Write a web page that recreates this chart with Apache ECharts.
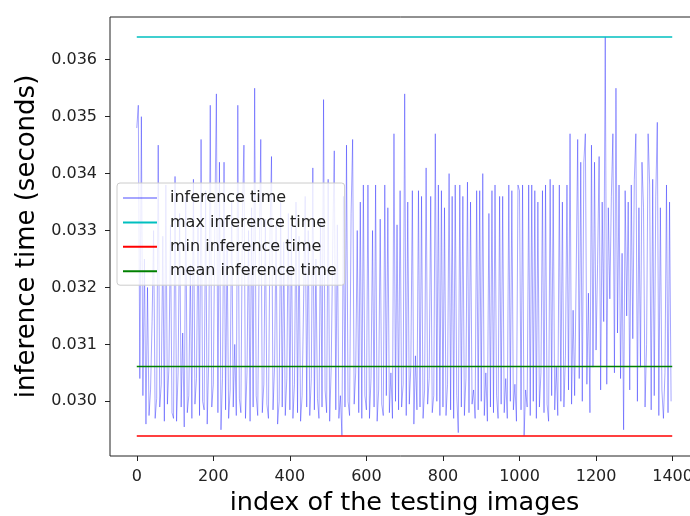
<!DOCTYPE html>
<html>
<head>
<meta charset="utf-8">
<script src="https://cdn.jsdelivr.net/npm/echarts@6/dist/echarts.min.js"></script>
<style>
html,body{margin:0;padding:0;background:#fff;}
#chart{width:690px;height:516px;}
</style>
</head>
<body>
<div id="chart"></div>
<script>
// inference time in milliseconds, sampled every 4th testing image (index = position * step)
const step = 4;
const ms0000 = [34.80,35.20,30.40,35.00,30.10,32.50,29.60,32.00,29.75,30.20,
  31.40,33.00,29.70,30.05,34.50,29.90,30.30,32.90,29.65,33.80,
  29.95,30.60,33.10,29.80,29.70,33.95,29.65,30.50,33.30,29.90,
  31.20,29.55,33.60,29.80,30.10,32.40,29.70,33.90,29.95,30.40,
  33.10,29.75,34.60,30.00,29.85,33.70,29.60,30.70,35.20,29.90];
const ms0200 = [30.30,33.20,35.40,29.80,34.20,29.50,30.40,34.20,29.85,32.80,
  29.70,30.20,33.50,29.90,31.00,29.75,35.20,30.05,29.80,33.30,
  34.50,29.70,30.50,33.00,29.65,33.40,29.90,35.50,30.10,29.75,
  32.60,34.60,29.80,30.30,33.20,29.95,29.70,32.90,34.30,29.85,
  30.60,33.10,29.60,30.00,33.50,29.90,32.80,29.75,30.40,33.30];
const ms0400 = [29.85,33.10,29.70,30.30,33.50,29.80,32.90,29.65,30.10,31.80,
  33.60,29.90,33.00,29.75,30.40,34.10,29.85,32.50,30.05,29.70,
  33.20,29.90,35.30,30.20,29.80,33.90,29.65,30.60,32.80,34.40,
  29.85,33.10,29.70,30.10,29.40,33.60,29.90,34.50,30.00,29.75,
  33.30,34.60,29.95,30.50,33.00,29.80,33.50,29.70,33.80,30.10];
const ms0600 = [29.85,33.80,29.70,30.40,33.00,29.90,33.80,29.65,30.20,33.20,
  29.95,29.75,33.80,30.10,33.40,29.80,30.50,29.70,34.70,30.00,
  33.10,29.85,33.70,29.90,30.30,35.40,29.75,33.50,29.95,30.60,
  33.70,29.60,30.80,29.85,33.70,29.90,33.60,29.70,30.20,34.10,
  29.95,30.40,33.60,29.80,30.10,34.70,30.00,33.80,29.75,33.70];
const ms0800 = [29.90,33.40,29.75,30.30,34.00,29.85,33.60,29.70,33.80,30.10,
  29.45,33.80,29.90,33.60,29.75,30.40,33.85,29.80,33.50,29.95,
  30.20,29.70,33.70,29.85,33.70,30.00,34.00,29.75,30.50,29.65,
  33.30,29.90,33.70,29.80,33.80,30.10,29.70,33.60,29.95,33.60,
  29.80,30.40,29.70,33.80,30.00,33.70,29.85,30.30,29.65,33.80];
const ms1000 = [33.70,29.85,33.80,29.40,30.20,29.90,33.80,29.75,33.80,30.00,
  33.70,29.70,33.50,29.90,30.50,33.70,29.80,33.80,29.95,29.65,
  33.90,30.10,33.80,29.85,30.60,29.75,33.80,30.00,33.50,29.90,
  30.80,33.80,30.20,34.70,29.95,31.60,30.10,32.20,34.60,30.40,
  34.20,30.00,34.20,34.70,30.30,31.90,29.80,34.50,30.60,34.20];
const ms1200 = [30.90,32.40,34.30,30.20,33.50,31.40,36.40,30.30,33.40,31.80,
  33.60,34.70,30.50,35.50,31.20,33.80,30.40,32.60,29.50,33.70,
  31.50,33.50,30.20,33.80,31.10,33.90,34.70,30.00,33.40,30.60,
  34.20,33.40,29.90,31.00,34.70,33.80,29.85,33.90,30.10,33.60,
  34.90,29.75,33.40,30.20,29.70,30.50,33.80,29.80,33.50,30.00];

// summary lines (seconds)
const maxTime = 0.03640;
const minTime = 0.02939;
const meanTime = 0.03061;
const lastIndex = 1399;

const xTicks = [0, 200, 400, 600, 800, 1000, 1200, 1400];
const yTicks = [0.030, 0.031, 0.032, 0.033, 0.034, 0.035, 0.036];

const allMs = [].concat(ms0000, ms0200, ms0400, ms0600, ms0800, ms1000, ms1200);
const seriesData = allMs.map((v, i) => [i * step, v / 1000]);

const FONT = 'DejaVu Sans';
const chart = echarts.init(document.getElementById('chart'), null, {renderer: 'canvas'});
chart.setOption({
  animation: false,
  backgroundColor: '#fff',
  grid: {left: 110, top: 17, width: 589, height: 439, show: true, borderColor: '#222', borderWidth: 1,
    backgroundColor: 'transparent', containLabel: false, outerBoundsMode: 'none'},
  xAxis: {
    type: 'value', min: -69.95, max: 1468.95,
    splitLine: {show: false},
    axisLine: {show: false, onZero: false},
    axisTick: {show: true, inside: false, length: 5, customValues: xTicks, lineStyle: {color: '#222'}},
    axisLabel: {customValues: xTicks, color: '#222', fontFamily: FONT, fontSize: 16, margin: 13,
      formatter: v => String(v)},
    name: 'index of the testing images', nameLocation: 'middle', nameGap: 30,
    nameTextStyle: {color: '#000', fontFamily: FONT, fontSize: 25.5}
  },
  yAxis: {
    type: 'value', min: 0.02904, max: 0.03675,
    splitLine: {show: false},
    axisLine: {show: false, onZero: false},
    axisTick: {show: true, inside: false, length: 5, customValues: yTicks, lineStyle: {color: '#222'}},
    axisLabel: {customValues: yTicks, color: '#222', fontFamily: FONT, fontSize: 16, margin: 13,
      formatter: v => v.toFixed(3)},
    name: 'inference time (seconds)', nameLocation: 'middle', nameGap: 70,
    nameTextStyle: {color: '#000', fontFamily: FONT, fontSize: 26}
  },
  legend: {
    orient: 'vertical', left: 117, top: 183,
    icon: 'rect', itemWidth: 34, itemHeight: 2, itemGap: 8.4,
    padding: [7, 8, 6, 6],
    backgroundColor: 'rgba(255,255,255,0.8)', borderColor: '#ccc', borderWidth: 1, borderRadius: 3,
    textStyle: {color: '#222', fontFamily: FONT, fontSize: 16, lineHeight: 16, padding: [0, 0, 0, 8]},
    data: ['inference time', 'max inference time', 'min inference time', 'mean inference time']
  },
  series: [
    {name: 'inference time', type: 'line', data: seriesData, showSymbol: false, symbol: 'none',
      color: 'rgba(0,0,255,0.35)', lineStyle: {width: 1, color: 'rgba(0,0,255,0.35)'}, z: 2},
    {name: 'max inference time', type: 'line', data: [[0, maxTime], [lastIndex, maxTime]], symbol: 'none',
      color: '#00bfbf', lineStyle: {width: 1.5, color: '#00bfbf'}, z: 3},
    {name: 'min inference time', type: 'line', data: [[0, minTime], [lastIndex, minTime]], symbol: 'none',
      color: '#ff0000', lineStyle: {width: 1.5, color: '#ff0000'}, z: 3},
    {name: 'mean inference time', type: 'line', data: [[0, meanTime], [lastIndex, meanTime]], symbol: 'none',
      color: '#008000', lineStyle: {width: 1.5, color: '#008000'}, z: 3}
  ]
});
</script>
</body>
</html>
